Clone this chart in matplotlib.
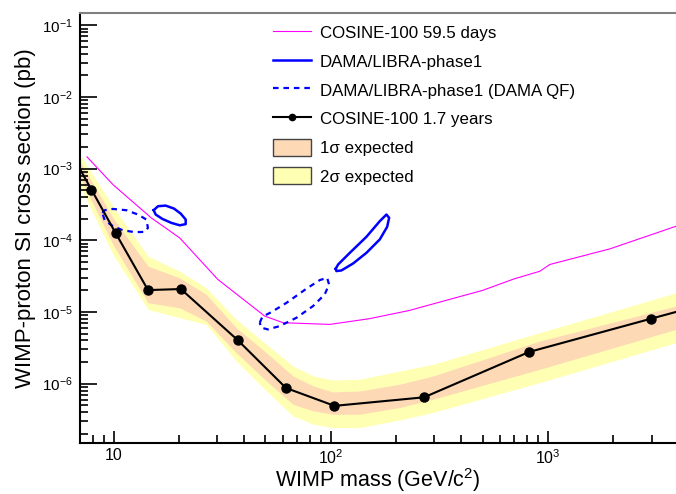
import numpy as np
from matplotlib import pyplot as plt
from matplotlib.patches import Patch
from matplotlib.lines import Line2D

plt.rcParams["font.family"] = ["Liberation Sans", "DejaVu Sans"]
plt.rcParams["mathtext.fontset"] = "custom"
plt.rcParams["mathtext.rm"] = "Liberation Sans"
plt.rcParams["mathtext.it"] = "Liberation Sans:italic"

# COSINE-100 1.7 years limit (markers), ends run past the axes
limit_mass = [6.5, 7.9, 10.2, 14.4, 20.4, 37.2, 62.2, 104, 269, 820, 2990, 5000]
limit_xsec = [1.47e-3, 5.1e-4, 1.27e-4, 2.02e-5, 2.09e-5, 4.07e-6, 8.7e-7,
              4.9e-7, 6.45e-7, 2.77e-6, 8.07e-6, 1.23e-5]

# expected sensitivity bands (log10 of cross section)
band_mass = [7.0, 9.93, 14.4, 20.1, 26.7, 36.7, 50.5, 67.0, 83.0, 102, 136,
             208, 296, 918, 2470, 3890]
band_2s_hi = [-2.805, -3.525, -4.221, -4.430, -4.663, -5.104, -5.452, -5.754,
              -5.893, -5.949, -5.939, -5.823, -5.730, -5.288, -4.908, -4.731]
band_1s_hi = [-2.900, -3.688, -4.361, -4.523, -4.755, -5.220, -5.568, -5.893,
              -6.032, -6.116, -6.102, -6.008, -5.893, -5.405, -5.071, -4.918]
band_1s_lo = [-3.120, -4.059, -4.871, -4.941, -5.127, -5.568, -5.963, -6.288,
              -6.380, -6.427, -6.427, -6.333, -6.217, -5.799, -5.419, -5.242]
band_2s_lo = [-3.250, -4.198, -4.964, -5.080, -5.173, -5.684, -6.102, -6.450,
              -6.566, -6.613, -6.613, -6.506, -6.402, -5.985, -5.604, -5.428]

# COSINE-100 59.5 days
old_mass = [7.54, 9.93, 14.92, 20.15, 30.2, 49.6, 60.3, 98.9, 136, 151, 230,
            353, 500, 700, 918, 1020, 1930, 3890]
old_xsec = [1.46e-3, 5.98e-4, 2.05e-4, 1.08e-4, 2.84e-5, 8.77e-6, 7.08e-6,
            6.71e-6, 7.71e-6, 8.07e-6, 1.05e-5, 1.5e-5, 2.0e-5, 2.9e-5,
            3.7e-5, 4.6e-5, 7.6e-5, 1.57e-4]

# DAMA/LIBRA-phase1 contours
dama_lo_mass = [15.29, 16.01, 17.36, 18.97, 20.36, 21.47, 21.47, 20.15, 18.44,
                16.76, 15.62, 15.29]
dama_lo_xsec = [2.63e-4, 2.99e-4, 3.05e-4, 2.77e-4, 2.36e-4, 1.95e-4, 1.68e-4,
                1.62e-4, 1.75e-4, 1.99e-4, 2.29e-4, 2.63e-4]
dama_hi_mass = [105.4, 108.1, 122.4, 146.0, 168.2, 180.5, 185.7, 181.8, 168.2,
                146.0, 126.7, 112.0, 106.2, 105.4]
dama_hi_xsec = [4.0e-5, 4.6e-5, 6.69e-5, 1.12e-4, 1.85e-4, 2.29e-4, 2.06e-4,
                1.54e-4, 1.03e-4, 6.69e-5, 4.75e-5, 3.80e-5, 3.72e-5, 4.0e-5]

# DAMA/LIBRA-phase1 with DAMA quenching factor
damaqf_lo_mass = [8.87, 9.09, 9.93, 11.44, 12.94, 14.14, 14.39, 13.89, 12.50,
                  11.04, 9.93, 9.09, 8.87]
damaqf_lo_xsec = [2.41e-4, 2.63e-4, 2.74e-4, 2.63e-4, 2.29e-4, 1.95e-4, 1.49e-4,
                  1.31e-4, 1.30e-4, 1.38e-4, 1.57e-4, 1.91e-4, 2.41e-4]
damaqf_hi_mass = [47.1, 48.4, 53.3, 62.5, 77.2, 88.9, 96.2, 98.2, 93.8, 82.9,
                  69.5, 58.2, 51.4, 47.9, 47.1]
damaqf_hi_xsec = [7.08e-6, 8.58e-6, 9.97e-6, 1.34e-5, 2.11e-5, 2.78e-5, 3.0e-5,
                  2.42e-5, 1.76e-5, 1.21e-5, 8.31e-6, 6.36e-6, 5.71e-6, 6.03e-6,
                  7.08e-6]

labels = ["COSINE-100 59.5 days", "DAMA/LIBRA-phase1",
          "DAMA/LIBRA-phase1 (DAMA QF)", "COSINE-100 1.7 years",
          "1σ expected", "2σ expected"]

col_1s = "#fdd9b5"
col_2s = "#ffffb3"

W, H = 676, 494
fig = plt.figure(figsize=(W / 100, H / 100), dpi=100)
ax = fig.add_axes([80 / W, 1 - 442.7 / H, 1 - 80 / W, (442.7 - 13.3) / H])

ax.fill_between(band_mass, 10 ** np.array(band_2s_lo), 10 ** np.array(band_2s_hi),
                color=col_2s, lw=0)
ax.fill_between(band_mass, 10 ** np.array(band_1s_lo), 10 ** np.array(band_1s_hi),
                color=col_1s, lw=0)

ax.plot(old_mass, old_xsec, color="#ff00ff", lw=0.8)
ax.plot(dama_lo_mass, dama_lo_xsec, color="#0000ff", lw=1.8)
ax.plot(dama_hi_mass, dama_hi_xsec, color="#0000ff", lw=1.8)
ax.plot(damaqf_lo_mass, damaqf_lo_xsec, color="#0000ff", lw=1.6, ls=(0, (2.5, 2.2)))
ax.plot(damaqf_hi_mass, damaqf_hi_xsec, color="#0000ff", lw=1.6, ls=(0, (2.5, 2.2)))
ax.plot(limit_mass, limit_xsec, color="black", lw=1.5)
ax.plot(limit_mass[1:-1], limit_xsec[1:-1], "o", color="black", ms=6.5)

ax.set_xscale("log")
ax.set_yscale("log")
ax.set_xlim(7, 3890)
ax.set_ylim(1.5e-7, 0.147)

ax.set_xticks([10, 100, 1000])
ax.set_xticklabels(["10", "$10^{2}$", "$10^{3}$"])
ax.set_yticks([1e-6, 1e-5, 1e-4, 1e-3, 1e-2, 1e-1])
ax.set_yticklabels(["$10^{-6}$", "$10^{-5}$", "$10^{-4}$", "$10^{-3}$",
                    "$10^{-2}$", "$10^{-1}$"])
ax.tick_params(axis="both", which="both", direction="in", top=False, right=False,
               width=1.2)
ax.tick_params(axis="y", which="major", length=12, pad=5, labelsize=11)
ax.tick_params(axis="y", which="minor", length=6)
ax.tick_params(axis="x", which="major", length=9, pad=4, labelsize=11.5)
ax.tick_params(axis="x", which="minor", length=5.5)

for s in ["left", "bottom"]:
    ax.spines[s].set_linewidth(1.5)
ax.spines["top"].set_color("#808080")
ax.spines["top"].set_linewidth(1.5)
ax.spines["right"].set_visible(False)

ax_h = 442.7 - 13.3
ax.set_xlabel("WIMP mass (GeV/c$^{2}$)", fontsize=15.5, va="bottom")
ax.xaxis.set_label_coords(0.5, -(494 - 442.7) / ax_h)
ax.set_ylabel("WIMP-proton SI cross section (pb)", fontsize=16)
ax.yaxis.set_label_coords(-(80 - 36) / (W - 80), (442.7 - 218.5) / ax_h)

handles = [
    Line2D([], [], color="#ff00ff", lw=0.8),
    Line2D([], [], color="#0000ff", lw=1.8),
    Line2D([], [], color="#0000ff", lw=1.6, ls=(0, (2.5, 2.2))),
    Line2D([], [], color="black", lw=1.5, marker="o", ms=4.5),
    Patch(facecolor=col_1s, edgecolor="#444444", lw=1),
    Patch(facecolor=col_2s, edgecolor="#444444", lw=1),
]
ax.legend(handles, labels, loc="upper left", bbox_to_anchor=(273 / W, 1 - 24 / H),
          bbox_transform=fig.transFigure, frameon=False, fontsize=12.2,
          handlelength=2.25, handleheight=1.18, handletextpad=0.53,
          labelspacing=0.67, borderpad=0, borderaxespad=0)

fig.savefig("out.png", dpi=100)
